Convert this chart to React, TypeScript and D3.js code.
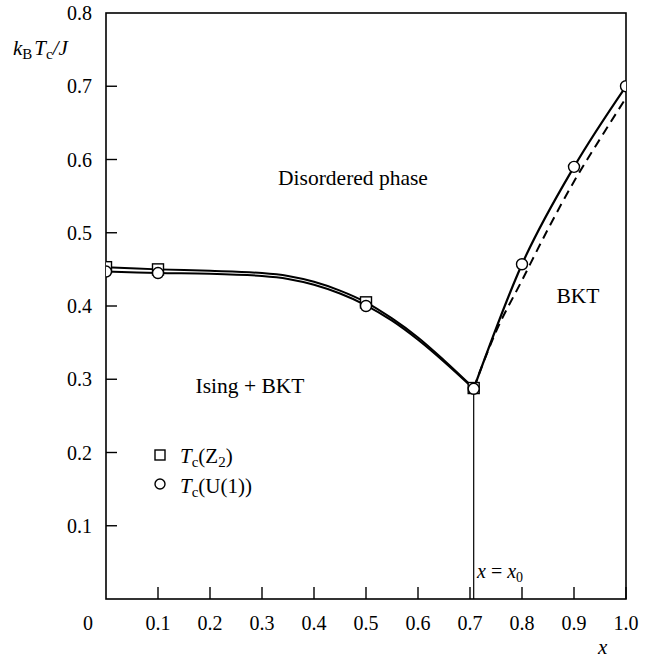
import React from 'react';
import {scaleLinear, line, curveMonotoneX, curveCatmullRom} from 'd3';

const width = 650;
const height = 659;

// markers
const z2X = [0, 0.1, 0.5, 0.7071];
const z2T = [0.453, 0.45, 0.405, 0.288];
const u1X = [0, 0.1, 0.5, 0.7071, 0.8, 0.9, 1.0];
const u1T = [0.447, 0.445, 0.4, 0.287, 0.457, 0.59, 0.7];

// solid curves (left branch)
const curveX = [0, 0.1, 0.2, 0.3, 0.35, 0.4, 0.45, 0.5, 0.55, 0.6, 0.65, 0.7071];
const z2Curve = [0.453, 0.45, 0.448, 0.445, 0.441, 0.433, 0.421, 0.405, 0.383, 0.357, 0.326, 0.288];
const u1Curve = [0.447, 0.445, 0.444, 0.441, 0.437, 0.429, 0.417, 0.401, 0.38, 0.354, 0.324, 0.287];

// dashed curve (right branch)
const dashX = [0.7071, 0.75, 0.8, 0.85, 0.9, 0.95, 1.0];
const dashT = [0.288, 0.365, 0.435, 0.505, 0.57, 0.628, 0.684];

const xTicks = [0.1, 0.2, 0.3, 0.4, 0.5, 0.6, 0.7, 0.8, 0.9, 1.0];
const yTicks = [0.1, 0.2, 0.3, 0.4, 0.5, 0.6, 0.7, 0.8];
const x0 = 0.7071;

const font = '"Liberation Serif", "Times New Roman", serif';

export default function App() {
  const x = scaleLinear().domain([0, 1]).range([106, 626]);
  const y = scaleLinear().domain([0, 0.8]).range([599, 13]);

  const smooth = line<[number, number]>()
    .x(d => x(d[0]))
    .y(d => y(d[1]))
    .curve(curveCatmullRom.alpha(0.5));
  const path = line<[number, number]>()
    .x(d => x(d[0]))
    .y(d => y(d[1]))
    .curve(curveMonotoneX);

  const zip = (xs: number[], ys: number[]) => xs.map((v, i) => [v, ys[i]] as [number, number]);
  const rightX = u1X.slice(3);
  const rightT = u1T.slice(3);

  const [left, right] = x.range();
  const [bottom, top] = y.range();

  return (
    <svg width={width} height={height} style={{position: 'absolute', left: 0, top: 0}}
         fontFamily={font} fontSize={20}>
      <rect width={width} height={height} fill="#fff"/>
      <defs>
        <clipPath id="plot">
          <rect x={left} y={top} width={right - left} height={bottom - top}/>
        </clipPath>
      </defs>

      {/* frame */}
      <rect x={left} y={top} width={right - left} height={bottom - top}
            fill="none" stroke="#000" strokeWidth={1.6}/>

      {/* ticks, inward */}
      {xTicks.map(t => (
        <line key={'xt' + t} x1={x(t)} x2={x(t)} y1={bottom} y2={bottom - 12} stroke="#000" strokeWidth={1.4}/>
      ))}
      {yTicks.slice(0, -1).map(t => (
        <line key={'yt' + t} x1={left} x2={left + 11} y1={y(t)} y2={y(t)} stroke="#000" strokeWidth={1.4}/>
      ))}

      {/* tick labels */}
      {xTicks.map(t => (
        <text key={'xl' + t} x={x(t)} y={630} textAnchor="middle">{t.toFixed(1)}</text>
      ))}
      <text x={88} y={630} textAnchor="middle">0</text>
      {yTicks.map(t => (
        <text key={'yl' + t} x={92} y={y(t) + 7} textAnchor="end">{t.toFixed(1)}</text>
      ))}

      {/* axis titles */}
      <text x={598} y={654} fontStyle="italic" fontSize={21}>x</text>
      <text x={13} y={55} fontSize={21}>
        <tspan fontStyle="italic">k</tspan>
        <tspan fontSize={15} dy={4}>B</tspan>
        <tspan fontStyle="italic" dy={-4} dx={2}>T</tspan>
        <tspan fontSize={15} dy={4}>c</tspan>
        <tspan fontStyle="italic" dy={-4}>/J</tspan>
      </text>

      {/* x = x0 line */}
      <line x1={x(x0)} x2={x(x0)} y1={bottom} y2={y(0.287)} stroke="#000" strokeWidth={1.2}/>
      <text x={477} y={578}>
        <tspan fontStyle="italic">x</tspan>
        <tspan> = </tspan>
        <tspan fontStyle="italic">x</tspan>
        <tspan fontSize={14} dy={4}>0</tspan>
      </text>

      {/* curves */}
      <g clipPath="url(#plot)" fill="none" stroke="#000">
        <path d={smooth(zip(curveX, z2Curve)) || ''} strokeWidth={2}/>
        <path d={smooth(zip(curveX, u1Curve)) || ''} strokeWidth={2}/>
        <path d={path(zip(rightX, rightT)) || ''} strokeWidth={2.2}/>
        <path d={path(zip(dashX, dashT)) || ''} strokeWidth={2} strokeDasharray="9,6"/>
      </g>

      {/* markers */}
      <g clipPath="url(#plot)" fill="#fff" stroke="#000" strokeWidth={1.4}>
        {z2X.map((v, i) => (
          <rect key={'s' + i} x={x(v) - 5.5} y={y(z2T[i]) - 5.5} width={11} height={11}/>
        ))}
        {u1X.map((v, i) => (
          <circle key={'c' + i} cx={x(v)} cy={y(u1T[i])} r={5.5}/>
        ))}
      </g>

      {/* region labels */}
      <g fontSize={21.5}>
        <text x={353} y={185} textAnchor="middle">Disordered phase</text>
        <text x={250} y={393} textAnchor="middle">Ising + BKT</text>
        <text x={578} y={303} textAnchor="middle">BKT</text>
      </g>

      {/* legend */}
      <rect x={155} y={450} width={10} height={10} fill="#fff" stroke="#000" strokeWidth={1.4}/>
      <text x={180} y={463} fontSize={21}>
        <tspan fontStyle="italic">T</tspan>
        <tspan fontSize={15} dy={4}>c</tspan>
        <tspan dy={-4}>(Z</tspan>
        <tspan fontSize={15} dy={4}>2</tspan>
        <tspan dy={-4}>)</tspan>
      </text>
      <circle cx={160} cy={484} r={5} fill="#fff" stroke="#000" strokeWidth={1.4}/>
      <text x={180} y={493} fontSize={21}>
        <tspan fontStyle="italic">T</tspan>
        <tspan fontSize={15} dy={4}>c</tspan>
        <tspan dy={-4}>(U(1))</tspan>
      </text>
    </svg>
  );
}
